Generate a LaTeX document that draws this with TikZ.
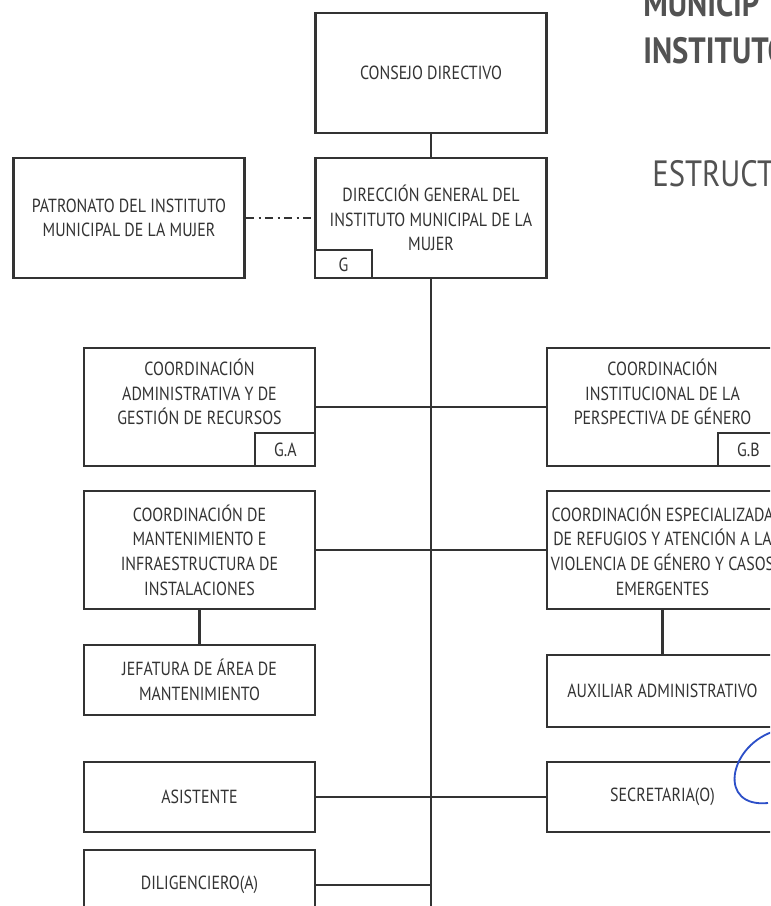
\documentclass[tikz,border=0pt]{standalone}
\usepackage{fontspec}
\setmainfont{PT Sans}[FakeStretch=0.84]
\usetikzlibrary{positioning}
\definecolor{ink}{HTML}{333333}
\definecolor{pen}{HTML}{2C4FC8}
\tikzset{box/.style = {draw=ink, line width=2pt, fill=white, align=center, text=ink,
        minimum width=5.775cm, minimum height=3cm, inner sep=0pt,
        font=\fontsize{13.5}{17.5}\selectfont},
    low/.style = {box, minimum height=1.75cm},
    mid/.style = {box, minimum height=2.95cm},
    tag/.style = {draw=ink, line width=1.4pt, fill=white, text=ink, inner sep=0pt,
        font=\fontsize{13.5}{14}\selectfont},
    link/.style = {draw=ink, line width=1.7pt},
    trunk/.style = {draw=ink, line width=1pt},
    head/.style = {text=ink!85, inner sep=0pt, anchor=base west}}

\begin{document}
\begin{tikzpicture}[x=0.025cm, y=-0.025cm]
        \useasboundingbox (0,0) rectangle (770,906);
        \clip (0,0) rectangle (770,906);

        % titulo
        \node[head, font=\fontsize{26}{26}\selectfont\bfseries] (muni) at (643,17) {MUNICIP};
        \node[head, font=\fontsize{26}{26}\selectfont\bfseries] (inst) at (643,64) {INSTITUTO};
        \node[head, font=\fontsize{26}{26}\selectfont] (estr) at (652,187) {ESTRUCT};

        % arriba
        \node[box] (consejo) at (431,73) {CONSEJO DIRECTIVO};
        \node[box] (direccion) at (431,218) {DIRECCIÓN GENERAL DEL\\ INSTITUTO MUNICIPAL DE LA\\ MUJER};
        \node[box] (patronato) at (129,218) {PATRONATO DEL INSTITUTO\\ MUNICIPAL DE LA MUJER};
        \node[tag, minimum width=1.425cm, minimum height=0.7cm, anchor=south west] (g) at (direccion.south west) {G};

        % coordinaciones
        \node[mid] (adm) at (199.5,407) {COORDINACIÓN\\ ADMINISTRATIVA Y DE\\ GESTIÓN DE RECURSOS\\[4pt]};
        \node[mid] (perspectiva) at (662.5,407) {COORDINACIÓN\\ INSTITUCIONAL DE LA\\ PERSPECTIVA DE GÉNERO\\[4pt]};
        \node[tag, minimum width=1.5cm, minimum height=0.825cm, anchor=south east] (ga) at (adm.south east) {G.A};
        \node[tag, minimum width=1.5cm, minimum height=0.825cm, anchor=south east] (gb) at (perspectiva.south east) {G.B};

        \node[mid] (mant) at (199.5,550) {COORDINACIÓN DE\\ MANTENIMIENTO E\\ INFRAESTRUCTURA DE\\ INSTALACIONES};
        \node[mid] (refugios) at (662.5,550) {COORDINACIÓN ESPECIALIZADA\\ DE REFUGIOS Y ATENCIÓN A LA\\ VIOLENCIA DE GÉNERO Y CASOS\\ EMERGENTES};

        \node[low] (jefatura) at (199.5,680) {JEFATURA DE ÁREA DE\\ MANTENIMIENTO};
        \node[low, minimum height=1.8cm] (auxiliar) at (662.5,691) {AUXILIAR ADMINISTRATIVO};

        \foreach \n/\x/\t in {asistente/199.5/ASISTENTE, secretaria/662.5/SECRETARIA(O)}
            \node[low] (\n) at (\x,797) {\t};
        \node[low] (diligenciero) at (199.5,885) {DILIGENCIERO(A)};

        \coordinate (fondo) at (431,906);

        \draw[trunk] (consejo) -- (direccion);
        \draw[trunk] (direccion) -- (fondo);
        \draw[link, dash pattern=on 6pt off 3pt on 1.5pt off 3pt] (patronato) -- (direccion);
        \draw[link] (adm) -- (perspectiva);
        \draw[link] (mant) -- (refugios);
        \draw[link] (asistente) -- (secretaria);
        \draw[link] (diligenciero) -- (diligenciero -| fondo);
        \draw[link] (mant) -- (jefatura);
        \draw[link] (refugios) -- (auxiliar);

        % firma
        \draw[pen, line width=1.3pt] (772,732) .. controls (728,748) and (718,808) .. (768,803);
    \end{tikzpicture}
\end{document}
